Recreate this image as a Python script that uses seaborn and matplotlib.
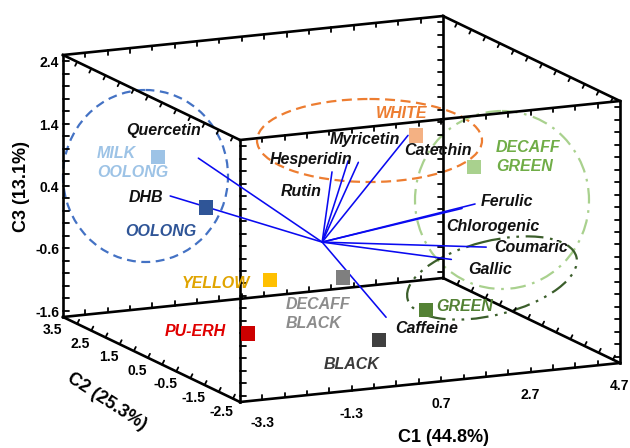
import itertools

import numpy as np
import pandas as pd
import matplotlib
matplotlib.use("Agg")
import matplotlib.pyplot as plt
import seaborn as sns
from matplotlib.patches import Ellipse

# ---------------------------------------------------------------------------
# PCA scores of the tea types (C1, C2, C3)
teas = ["MILK\nOOLONG", "OOLONG", "YELLOW", "DECAFF\nBLACK", "PU-ERH",
        "BLACK", "GREEN", "WHITE", "DECAFF\nGREEN"]
tea_c1 = [-2.31, -1.55, -0.75, 0.56, -3.15, 0.10, 2.10, 2.83, 2.86]
tea_c2 = [2.50, 2.00, 1.00, 0.50, -2.00, -1.50, 0.00, 1.50, -0.50]
tea_c3 = [0.97, 0.22, -0.79, -0.73, -0.81, -1.27, -1.26, 1.16, 1.09]

# Loading vectors of the measured compounds (C1, C2, C3)
compounds = ["Quercetin", "DHB", "Rutin", "Hesperidin", "Myricetin", "Catechin",
             "Ferulic", "Chlorogenic", "Coumaric", "Gallic", "Caffeine"]
load_c1 = [-2.77, -3.40, 0.22, 0.58, 0.81, 1.92, 3.42, 3.13, 3.67, 2.89, 1.43]
load_c2 = [0.00, 0.00, 0.00, 0.00, 0.00, 0.00, 0.00, 0.00, 0.00, 0.00, 0.00]
load_c3 = [1.55, 0.99, 1.11, 1.26, 1.22, 1.57, 0.36, 0.31, -0.35, -0.49, -1.31]
load_origin = (-0.22, 0.0, 0.0)

# Axis ranges and tick labels
c1_lim = (-3.8, 4.7)
c2_lim = (-2.75, 3.5)
c3_lim = (-1.7, 2.5)
c1_ticks = [-3.3, -1.3, 0.7, 2.7, 4.7]
c2_ticks = [3.5, 2.5, 1.5, 0.5, -0.5, -1.5, -2.5]
c3_ticks = [2.4, 1.4, 0.4, -0.6, -1.6]
axis_titles = ["C1 (44.8%)", "C2 (25.3%)", "C3 (13.1%)"]

# ---------------------------------------------------------------------------
# Oblique (orthographic) view of the C1/C2/C3 box onto the page
CORNER = np.array([63.0, 317.0])           # (c1 min, c2 max, c3 min)
STEP1 = np.array([380.0, -39.0]) / (c1_lim[1] - c1_lim[0])
STEP2 = np.array([-177.0, -85.0]) / (c2_lim[1] - c2_lim[0])
STEP3 = np.array([0.0, -262.0]) / (c3_lim[1] - c3_lim[0])


def project(c1, c2, c3):
    c1 = np.atleast_1d(np.asarray(c1, float))
    c2 = np.atleast_1d(np.asarray(c2, float))
    c3 = np.atleast_1d(np.asarray(c3, float))
    xy = (CORNER
          + np.outer(c1 - c1_lim[0], STEP1)
          + np.outer(c2 - c2_lim[1], STEP2)
          + np.outer(c3 - c3_lim[0], STEP3))
    return xy[:, 0], xy[:, 1]


sns.set_theme(style="white")
plt.rcParams["font.family"] = ["Liberation Sans", "DejaVu Sans"]

W, H = 630, 448
fig = plt.figure(figsize=(W / 100, H / 100), dpi=100)
ax = fig.add_axes([0, 0, 1, 1])

# ---------------------------------------------------------------------------
# Box wireframe with minor ticks
lims = [c1_lim, c2_lim, c3_lim]
tick_steps = [0.5, 0.5, 0.2]
tick_starts = [-3.3, -2.5, -1.6]
corners = list(itertools.product(*lims))
for a, b in itertools.combinations(corners, 2):
    diff = [i for i in range(3) if a[i] != b[i]]
    if len(diff) != 1:
        continue
    k = diff[0]
    xs, ys = project(*[[a[i], b[i]] for i in range(3)])
    ax.plot(xs, ys, color="black", lw=1.9, solid_capstyle="projecting", zorder=3)
    # tick positions along this edge
    lo, hi = lims[k]
    vals = np.arange(tick_starts[k] - 20 * tick_steps[k], hi + 1e-9, tick_steps[k])
    vals = vals[(vals > lo + 1e-6) & (vals < hi - 1e-6)]
    pts = [list(a) for _ in vals]
    for p, v in zip(pts, vals):
        p[k] = v
    pts = np.array(pts)
    tx, ty = project(pts[:, 0], pts[:, 1], pts[:, 2])
    top = a[2] == c3_lim[1]
    if k == 2:
        dx, dy = (5.5, 0.0) if tx.mean() < 300 else (-5.5, 0.0)
    elif k == 0:
        dx, dy = (0.0, 4.5) if top else (0.0, -4.5)
    else:
        dx, dy = (-2.0, 4.0) if top else (2.0, -4.0)
    for x0, y0 in zip(tx, ty):
        ax.plot([x0, x0 + dx], [y0, y0 + dy], color="black", lw=1.3, zorder=3)

# Tick labels
tick_font = dict(fontsize=10, fontweight="bold", color="black")
x, y = project(c1_ticks, [c2_lim[0]] * len(c1_ticks), [c3_lim[0]] * len(c1_ticks))
for xi, yi, v in zip(x, y, c1_ticks):
    ax.text(xi, yi + 23, f"{v:.1f}", ha="center", va="center", **tick_font)
x, y = project([c1_lim[0]] * len(c2_ticks), c2_ticks, [c3_lim[0]] * len(c2_ticks))
for xi, yi, v in zip(x, y, c2_ticks):
    ax.text(xi - 11, yi + 13, f"{v:.1f}", ha="center", va="center", **tick_font)
x, y = project([c1_lim[0]] * len(c3_ticks), [c2_lim[1]] * len(c3_ticks), c3_ticks)
for xi, yi, v in zip(x, y, c3_ticks):
    ax.text(xi - 4, yi + 2, f"{v:.1f}", ha="right", va="center", **tick_font)

# Axis titles
title_font = dict(fontsize=13, fontweight="bold", color="black",
                  ha="center", va="center")
ax.text(444, 437, axis_titles[0], **title_font)
ax.text(107, 402, axis_titles[1], rotation=-33, rotation_mode="anchor", **title_font)
ax.text(22, 187, axis_titles[2], rotation=90, **title_font)

# ---------------------------------------------------------------------------
# Loading vectors
ox, oy = project(*load_origin)
lx, ly = project(np.add(load_c1, load_origin[0]),
                 np.add(load_c2, load_origin[1]),
                 np.add(load_c3, load_origin[2]))
for xe, ye in zip(lx, ly):
    ax.plot([ox[0], xe], [oy[0], ye], color="#0A0AF0", lw=1.15, zorder=4)

compound_offsets = {
    "Quercetin": (-35, -28), "DHB": (-24, 2), "Rutin": (-31, 20),
    "Hesperidin": (-37, -1), "Myricetin": (7, -23), "Catechin": (30, 15),
    "Ferulic": (32, -2), "Chlorogenic": (31, 18), "Coumaric": (45, 0),
    "Gallic": (39, 10), "Caffeine": (41, 11),
}
label_font = dict(fontsize=11.5, fontweight="bold", fontstyle="italic")
for name, xe, ye in zip(compounds, lx, ly):
    dx, dy = compound_offsets[name]
    ax.text(xe + dx, ye + dy, name, ha="center", va="center", color="#111111",
            zorder=6, **label_font)

# ---------------------------------------------------------------------------
# Tea scores
marker_colors = ["#9DC3E6", "#2F5597", "#FFC000", "#7F7F7F", "#CC0000",
                 "#404040", "#548235", "#F4B183", "#A9D18E"]
text_colors = ["#9DC3E6", "#2F5597", "#E0A400", "#8C8C8C", "#E00000",
               "#3A3A3A", "#548235", "#ED7D31", "#70AD47"]
px, py = project(tea_c1, tea_c2, tea_c3)
scores = pd.DataFrame({"tea": teas, "x": px, "y": py})
sns.scatterplot(data=scores, x="x", y="y", hue="tea",
                palette=dict(zip(teas, marker_colors)), marker="s", s=108,
                linewidth=0, legend=False, ax=ax, zorder=5)

tea_offsets = {
    "MILK\nOOLONG": (-61, 6, "left"), "OOLONG": (-45, 24, "center"),
    "YELLOW": (-54, 3, "center"), "DECAFF\nBLACK": (-57, 37, "left"),
    "PU-ERH": (-53, -2, "center"), "BLACK": (-27, 24, "center"),
    "GREEN": (39, -4, "center"), "WHITE": (-14, -22, "center"),
    "DECAFF\nGREEN": (22, -10, "left"),
}
for name, xe, ye, col in zip(teas, px, py, text_colors):
    dx, dy, ha = tea_offsets[name]
    ax.text(xe + dx, ye + dy, name, ha=ha, va="center", color=col,
            multialignment="left", linespacing=1.3, zorder=6, **label_font)

# ---------------------------------------------------------------------------
# Group outlines
group_outlines = [
    dict(xy=(145.5, 176), width=165, height=172, angle=0, color="#4472C4",
         ls=(0, (4, 2.5))),
    dict(xy=(369.5, 140.5), width=225, height=83, angle=0, color="#ED7D31",
         ls=(0, (4.5, 2.5))),
    dict(xy=(502, 200), width=174, height=178, angle=0, color="#A9D18E",
         ls=(0, (7, 3, 1.2, 3))),
    dict(xy=(492, 278), width=174, height=74, angle=-14, color="#3B5E2B",
         ls=(0, (8, 3, 1.2, 3, 1.2, 3))),
]
for g in group_outlines:
    ax.add_patch(Ellipse(g["xy"], g["width"], g["height"], angle=g["angle"],
                         fill=False, edgecolor=g["color"], lw=1.6,
                         linestyle=g["ls"], zorder=2))

ax.set_xlim(0, W)
ax.set_ylim(H, 0)
ax.set_axis_off()
fig.savefig("out.png", dpi=100)
